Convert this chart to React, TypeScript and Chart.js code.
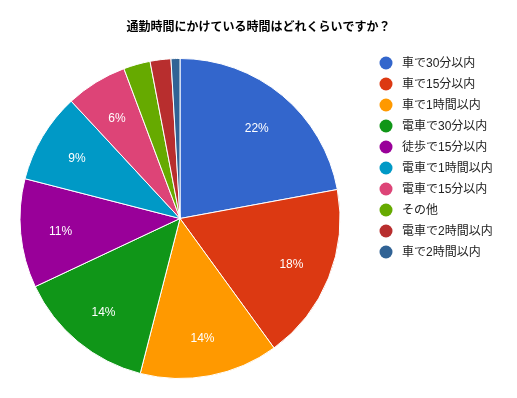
import React, { useEffect, useRef } from "react";
import { Chart, registerables } from "chart.js";

Chart.register(...registerables);

const TITLE = "通勤時間にかけている時間はどれくらいですか？";
const CATEGORIES = [
  "車で30分以内",
  "車で15分以内",
  "車で1時間以内",
  "電車で30分以内",
  "徒歩で15分以内",
  "電車で1時間以内",
  "電車で15分以内",
  "その他",
  "電車で2時間以内",
  "車で2時間以内",
];
const SHARES = [22.1, 17.9, 14.0, 14.0, 11.0, 9.1, 6.2, 2.7, 2.1, 0.9];
const COLORS = [
  "#3366cc",
  "#dc3912",
  "#ff9900",
  "#109618",
  "#990099",
  "#0099c6",
  "#dd4477",
  "#66aa00",
  "#b82e2e",
  "#316395",
];

const FONT = "Arial, 'Liberation Sans', 'Noto Sans CJK JP', sans-serif";

const sliceLabels = {
  id: "sliceLabels",
  afterDatasetsDraw(chart: any) {
    const meta = chart.getDatasetMeta(0);
    const data = chart.data.datasets[0].data as number[];
    const total = data.reduce((a, b) => a + b, 0);
    const ctx = chart.ctx;
    ctx.save();
    ctx.fillStyle = "#ffffff";
    ctx.font = `12px ${FONT}`;
    ctx.textAlign = "center";
    ctx.textBaseline = "middle";
    meta.data.forEach((arc: any, i: number) => {
      const pct = Math.round((data[i] / total) * 100);
      if (pct < 5) return;
      const p = arc.getProps(["x", "y", "startAngle", "endAngle", "outerRadius"], true);
      const mid = (p.startAngle + p.endAngle) / 2;
      const r = p.outerRadius * 0.75;
      ctx.fillText(pct + "%", p.x + Math.cos(mid) * r, p.y + Math.sin(mid) * r + 2);
    });
    ctx.restore();
  },
};

const titleAndLegend = {
  id: "titleAndLegend",
  afterDraw(chart: any) {
    const ctx = chart.ctx;
    const labels = chart.data.labels as string[];
    const colors = chart.data.datasets[0].backgroundColor as string[];
    ctx.save();
    ctx.font = `bold 12px ${FONT}`;
    ctx.fillStyle = "#000000";
    ctx.textAlign = "center";
    ctx.textBaseline = "middle";
    ctx.fillText(TITLE, chart.width / 2, 27.5);
    ctx.font = `12px ${FONT}`;
    ctx.textAlign = "left";
    labels.forEach((lab, i) => {
      const y = 63 + i * 21;
      ctx.beginPath();
      ctx.fillStyle = colors[i];
      ctx.arc(386, y, 6.5, 0, Math.PI * 2);
      ctx.fill();
      ctx.fillStyle = "#222222";
      ctx.fillText(lab, 402, y + 0.5);
    });
    ctx.restore();
  },
};

export default function App() {
  const ref = useRef<HTMLCanvasElement | null>(null);
  useEffect(() => {
    if (!ref.current) return;
    const chart = new Chart(ref.current, {
      type: "pie",
      data: {
        labels: CATEGORIES,
        datasets: [
          {
            data: SHARES,
            backgroundColor: COLORS,
            borderColor: "#ffffff",
            borderWidth: 1,
            hoverOffset: 0,
            offset: 0,
          } as any,
        ],
      },
      options: {
        animation: false,
        responsive: false,
        devicePixelRatio: 1,
        layout: { padding: { left: 19, right: 176, bottom: 19, top: 58 } },
        plugins: {
          legend: { display: false },
          tooltip: { enabled: false },
          title: { display: false },
        },
      } as any,
      plugins: [sliceLabels, titleAndLegend],
    });
    return () => chart.destroy();
  }, []);
  return (
    <div style={{ position: "fixed", left: 0, top: 0, width: 517, height: 398, background: "#fff" }}>
      <canvas ref={ref} width={517} height={398} style={{ display: "block" }} />
    </div>
  );
}
